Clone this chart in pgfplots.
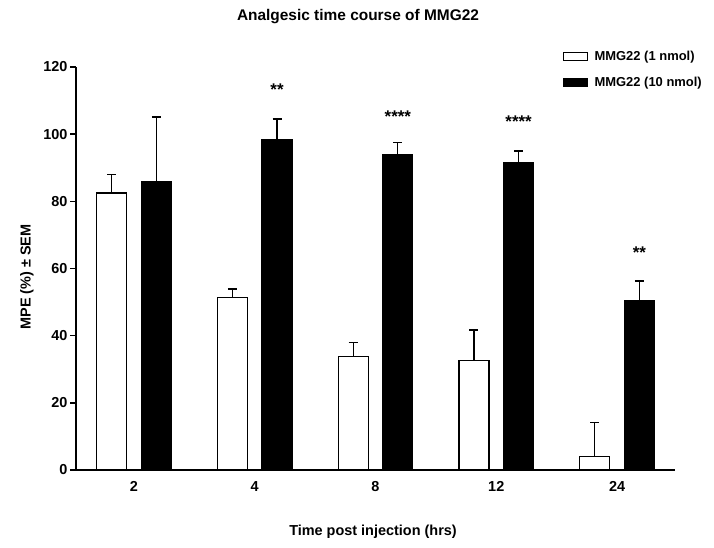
\documentclass[border=0pt]{standalone}
\usepackage{fontspec}
\setmainfont{Liberation Sans}
\usepackage{pgfplots}
\pgfplotsset{compat=1.18}
\begin{document}
\begin{tikzpicture}[x=1bp,y=1bp]
\path[use as bounding box] (0,0) rectangle (714,548);
\begin{axis}[
  at={(76bp,78bp)}, anchor=south west,
  scale only axis, width=599bp, height=403bp,
  xmin=-0.48, xmax=4.48, ymin=0, ymax=120,
  axis x line=bottom, axis y line=left,
  axis line style={-, line width=1.6bp, black},
  xtick={0,1,2,3,4}, xticklabels={2,4,8,12,24},
  ytick={0,20,40,60,80,100,120},
  tick align=outside, major tick length=6bp,
  x tick style={draw=none},
  y tick style={line width=1.6bp, black},
  /pgf/number format/assume math mode=true,
  tick label style={font=\bfseries\fontsize{14.5}{17}\selectfont},
  yticklabel style={xshift=1bp},
  xticklabel style={yshift=-2bp},
  legend style={at={(0.812,1.045)}, anchor=north west, draw=none, fill=none,
    inner sep=0pt, font=\bfseries\fontsize{13}{15}\selectfont,
    row sep=11bp},
  legend cell align=left,
  legend image code/.code={\draw[#1, line width=1bp] (0bp,-4bp) rectangle (24bp,4bp);},
  legend columns=1,
  clip=false,
]
\addplot[ybar, bar width=30bp, bar shift=0pt, fill=white, draw=black, line width=1.2bp,
  error bars/.cd, y dir=plus, y explicit,
  error bar style={line width=1.2bp, black},
  error mark options={rotate=90, mark size=4.5bp, line width=1.2bp, black}]
  coordinates {(-0.185,82.5) +- (0,5.4) (0.815,51.3) +- (0,2.6) (1.815,33.7) +- (0,4.2) (2.815,32.7) +- (0,9.0) (3.815,4.0) +- (0,10.1)};
\addlegendentry{\hspace{5bp}MMG22 (1 nmol)}
\addplot[ybar, bar width=30bp, bar shift=0pt, fill=black, draw=black, line width=1.2bp,
  error bars/.cd, y dir=plus, y explicit,
  error bar style={line width=1.2bp, black},
  error mark options={rotate=90, mark size=4.5bp, line width=1.2bp, black}]
  coordinates {(0.185,85.8) +- (0,19.3) (1.185,98.4) +- (0,6.1) (2.185,94.0) +- (0,3.6) (3.185,91.5) +- (0,3.5) (4.185,50.4) +- (0,5.9)};
\addlegendentry{\hspace{5bp}MMG22 (10 nmol)}
\node[anchor=base, font=\bfseries\fontsize{17}{19}\selectfont] at (axis cs:1.185,111.6) {**};
\node[anchor=base, font=\bfseries\fontsize{17}{19}\selectfont] at (axis cs:2.185,103.6) {****};
\node[anchor=base, font=\bfseries\fontsize{17}{19}\selectfont] at (axis cs:3.185,102.1) {****};
\node[anchor=base, font=\bfseries\fontsize{17}{19}\selectfont] at (axis cs:4.185,63) {**};
\end{axis}
\node[font=\bfseries\fontsize{15.5}{18}\selectfont] at (358,531) {Analgesic time course of MMG22};
\node[font=\bfseries\fontsize{14.5}{17}\selectfont] at (373,16) {Time post injection (hrs)};
\node[font=\bfseries\fontsize{14.5}{17}\selectfont, rotate=90] at (27,271) {MPE (\%) ± SEM};
\end{tikzpicture}
\end{document}
